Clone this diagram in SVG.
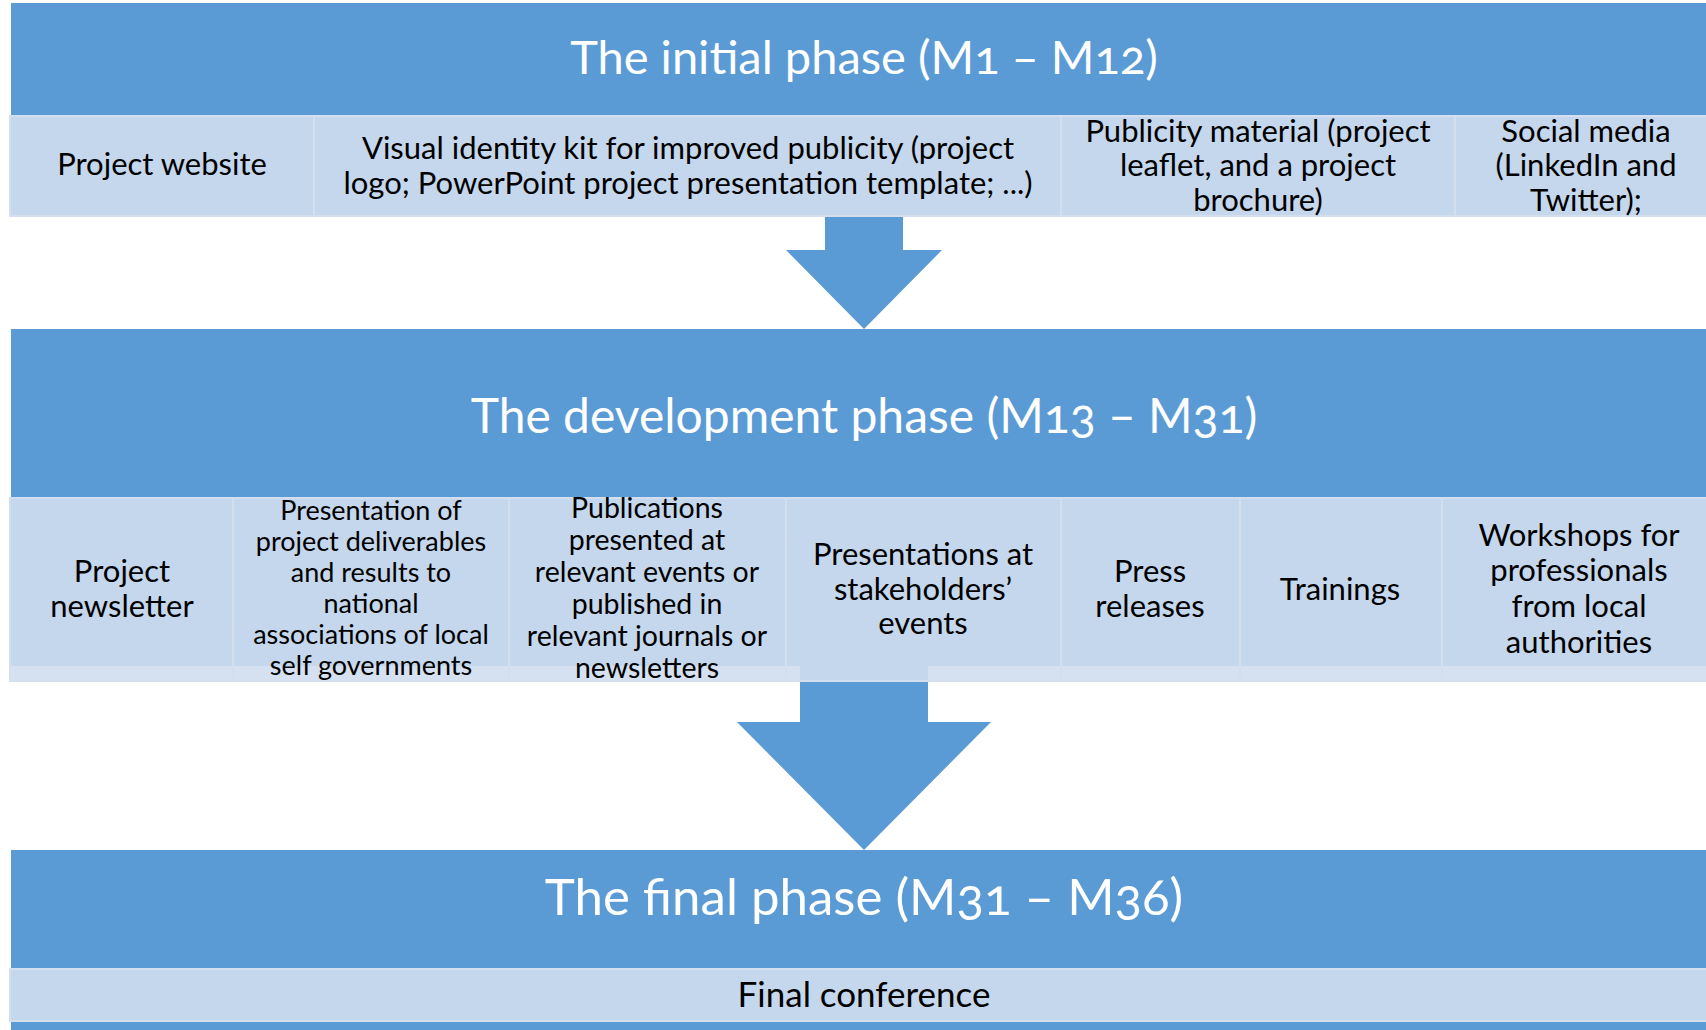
<svg xmlns="http://www.w3.org/2000/svg" width="1706" height="1030" viewBox="0 0 1706 1030">
<style>
  .band{fill:#5B9BD5}
  .cell{fill:#C5D7EC;stroke:#D3DFEF;stroke-width:2}
  .strip{fill:#D5E1F0}
  .arrow{fill:#5B9BD5}
  .title{font-family:Lato,"Open Sans",sans-serif;font-size:47px;fill:#FFFFFF;text-anchor:middle;font-variant-numeric:oldstyle-nums}
  .t{font-family:Lato,"Open Sans",sans-serif;font-size:31px;fill:#000000;text-anchor:middle}
  .s{font-family:Lato,"Open Sans",sans-serif;font-size:27px;fill:#000000;text-anchor:middle}
  .m{font-family:Lato,"Open Sans",sans-serif;font-size:28.5px;fill:#000000;text-anchor:middle}
</style>
<rect width="1706" height="1030" fill="#FFFFFF"/>

<g id="connectors">
  <polygon class="arrow" points="825,214 903,214 903,250 942,250 864,329 786,250 825,250"/>
  <polygon class="arrow" points="800,679 928,679 928,722 991,722 864,850 737,722 800,722"/>
</g>

<g id="phase-initial">
  <rect class="band" x="11" y="3" width="1695" height="113"/>
  <text class="title" x="864" y="74">The initial phase (M1 – M12)</text>
</g>
<g id="cell-website">
  <rect class="cell" x="10" y="116" width="304" height="100"/>
  <text class="t" x="162" y="175">Project website</text>
</g>
<g id="cell-visual">
  <rect class="cell" x="314" y="116" width="747" height="100"/>
  <text class="t" x="688" y="159">Visual identity kit for improved publicity (project</text>
  <text class="t" x="688" y="194">logo; PowerPoint project presentation template; ...)</text>
</g>
<g id="cell-publicity">
  <rect class="cell" x="1061" y="116" width="394" height="100"/>
  <text class="t" x="1258" y="142">Publicity material (project</text>
  <text class="t" x="1258" y="176">leaflet, and a project</text>
  <text class="t" x="1258" y="211">brochure)</text>
</g>
<g id="cell-social">
  <rect class="cell" x="1455" y="116" width="253" height="100"/>
  <text class="t" x="1586" y="142">Social media</text>
  <text class="t" x="1586" y="176">(LinkedIn and</text>
  <text class="t" x="1586" y="211">Twitter);</text>
</g>

<g id="phase-development">
  <rect class="band" x="11" y="329" width="1695" height="169"/>
  <text class="title" x="864" y="433" style="font-size:48px">The development phase (M13 – M31)</text>
</g>
<rect class="strip" x="10" y="666" width="1696" height="15"/>
<g id="cell-newsletter">
  <rect class="cell" x="10" y="498" width="223" height="183"/>
  <rect class="strip" x="11" y="666" width="221" height="14"/>
  <text class="t" x="122" y="582">Project</text>
  <text class="t" x="122" y="617">newsletter</text>
</g>
<g id="cell-presentation">
  <rect class="cell" x="233" y="498" width="276" height="183"/>
  <rect class="strip" x="234" y="666" width="274" height="14"/>
  <text class="s" x="371" y="520">Presentation of</text>
  <text class="s" x="371" y="551">project deliverables</text>
  <text class="s" x="371" y="582">and results to</text>
  <text class="s" x="371" y="613">national</text>
  <text class="s" x="371" y="644">associations of local</text>
  <text class="s" x="371" y="675">self governments</text>
</g>
<g id="cell-publications">
  <rect class="cell" x="509" y="498" width="277" height="183"/>
  <rect class="strip" x="510" y="666" width="275" height="14"/>
  <text class="m" x="647" y="518">Publications</text>
  <text class="m" x="647" y="550">presented at</text>
  <text class="m" x="647" y="582">relevant events or</text>
  <text class="m" x="647" y="614">published in</text>
  <text class="m" x="647" y="646">relevant journals or</text>
  <text class="m" x="647" y="678">newsletters</text>
</g>
<g id="cell-stakeholders">
  <rect class="cell" x="786" y="498" width="275" height="183"/>
  <rect class="strip" x="787" y="666" width="13" height="14"/>
  <rect class="strip" x="928" y="666" width="132" height="14"/>
  <text class="t" x="923" y="565">Presentations at</text>
  <text class="t" x="923" y="600">stakeholders’</text>
  <text class="t" x="923" y="634">events</text>
</g>
<g id="cell-press">
  <rect class="cell" x="1061" y="498" width="179" height="183"/>
  <rect class="strip" x="1062" y="666" width="177" height="14"/>
  <text class="t" x="1150" y="582">Press</text>
  <text class="t" x="1150" y="617">releases</text>
</g>
<g id="cell-trainings">
  <rect class="cell" x="1240" y="498" width="202" height="183"/>
  <rect class="strip" x="1241" y="666" width="200" height="14"/>
  <text class="t" x="1340" y="600">Trainings</text>
</g>
<g id="cell-workshops">
  <rect class="cell" x="1442" y="498" width="266" height="183"/>
  <rect class="strip" x="1443" y="666" width="263" height="14"/>
  <text class="t" x="1579" y="546">Workshops for</text>
  <text class="t" x="1579" y="581">professionals</text>
  <text class="t" x="1579" y="617">from local</text>
  <text class="t" x="1579" y="653">authorities</text>
</g>

<g id="phase-final">
  <rect class="band" x="11" y="850" width="1695" height="180"/>
  <text class="title" x="864" y="915" style="font-size:51px">The final phase (M31 – M36)</text>
</g>
<g id="cell-final-conference">
  <rect class="cell" x="10" y="969" width="1698" height="52"/>
  <text class="t" x="864" y="1007" style="font-size:35px">Final conference</text>
</g>
</svg>
